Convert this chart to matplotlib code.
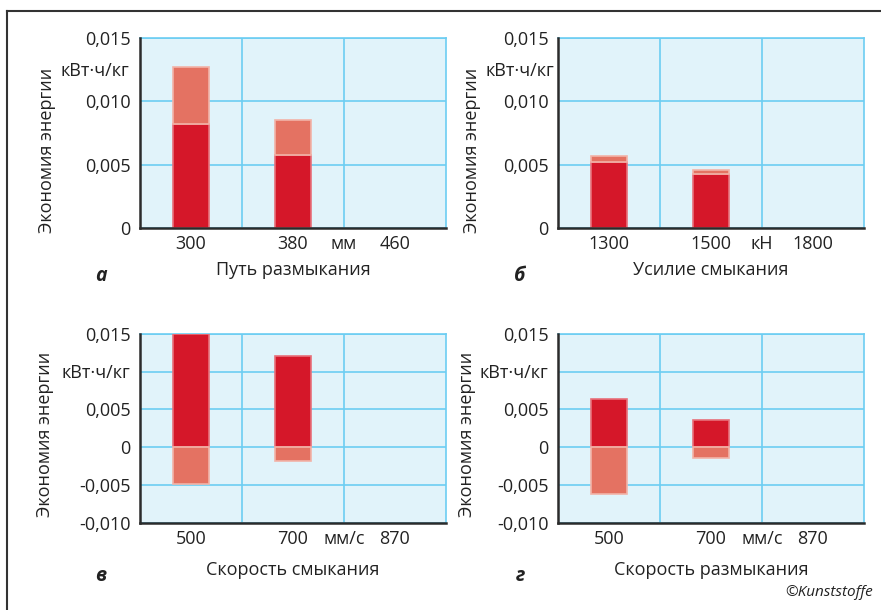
import matplotlib
matplotlib.use("Agg")
import matplotlib.pyplot as plt
from matplotlib.lines import Line2D

plt.rcParams['font.family'] = ['Open Sans', 'DejaVu Sans']

# ---- data ----
cats_a = ['300', '380']
ticks_a = ['300', '380', 'мм', '460']
dark_a = [0.0082, 0.0058]
light_a = [0.0045, 0.0027]      # stacked on top of dark

cats_b = ['1300', '1500']
ticks_b = ['1300', '1500', 'кН', '1800']
dark_b = [0.0052, 0.0043]
light_b = [0.0005, 0.0003]

cats_c = ['500', '700']
ticks_c = ['500', '700', 'мм/с', '870']
dark_c = [0.0150, 0.0120]
light_c = [-0.0049, -0.0019]

cats_d = ['500', '700']
ticks_d = ['500', '700', 'мм/с', '870']
dark_d = [0.0064, 0.0036]
light_d = [-0.0062, -0.0014]

ylabel = 'Экономия энергии'
unit = 'кВт·ч/кг'
xlabels = ['Путь размыкания', 'Усилие смыкания', 'Скорость смыкания', 'Скорость размыкания']
letters = ['а', 'б', 'в', 'г']

DARK = '#D51729'
DARK_EDGE = '#E8707A'
LIGHT = '#E47262'
LIGHT_EDGE = '#F2B3A8'
BG = '#E1F3FA'
GRID = '#6CCDF2'
AX = '#2B2B2B'
TXT = '#222222'

W, H = 881, 610
fig = plt.figure(figsize=(W / 100, H / 100), dpi=100)

def fx(px): return px / W
def fy(py): return 1 - py / H

panels = [
    dict(l=140, t=38, b=228, cats=cats_a, ticks=ticks_a, dark=dark_a, light=light_a, stack=True,
         ylim=(0, 0.015), yt=[0, 0.005, 0.010, 0.015], ytl=['0', '0,005', '0,010', '0,015'],
         xl=xlabels[0], let=letters[0], letx=101, lety=276, ylx=47, yly=150, upad=11),
    dict(l=558, t=38, b=228, cats=cats_b, ticks=ticks_b, dark=dark_b, light=light_b, stack=True,
         ylim=(0, 0.015), yt=[0, 0.005, 0.010, 0.015], ytl=['0', '0,005', '0,010', '0,015'],
         xl=xlabels[1], let=letters[1], letx=520, lety=276, ylx=472, yly=150, upad=4),
    dict(l=140, t=333.7, b=522.7, cats=cats_c, ticks=ticks_c, dark=dark_c, light=light_c, stack=False,
         ylim=(-0.010, 0.015), yt=[-0.010, -0.005, 0, 0.005, 0.010, 0.015],
         ytl=['-0,010', '-0,005', '0', '0,005', unit, '0,015'],
         xl=xlabels[2], let=letters[2], letx=101, lety=576, ylx=45, yly=434, upad=0),
    dict(l=558, t=333.7, b=522.7, cats=cats_d, ticks=ticks_d, dark=dark_d, light=light_d, stack=False,
         ylim=(-0.010, 0.015), yt=[-0.010, -0.005, 0, 0.005, 0.010, 0.015],
         ytl=['-0,010', '-0,005', '0', '0,005', unit, '0,015'],
         xl=xlabels[3], let=letters[3], letx=520, lety=576, ylx=467, yly=434, upad=0),
]

FS = 13
for p in panels:
    ax = fig.add_axes([fx(p['l']), fy(p['b']), 306 / W, (p['b'] - p['t']) / H])
    ax.set_facecolor(BG)
    n = len(p['cats'])
    x = list(range(n))
    bw = 0.35
    ax.bar(x, p['dark'], width=bw, color=DARK, edgecolor=DARK_EDGE, linewidth=1.2, zorder=3)
    if p['stack']:
        ax.bar(x, p['light'], width=bw, bottom=p['dark'], color=LIGHT, edgecolor=LIGHT_EDGE,
               linewidth=1.2, zorder=3)
    else:
        ax.bar(x, p['light'], width=bw, color=LIGHT, edgecolor=LIGHT_EDGE, linewidth=1.2, zorder=3)
    ax.set_xlim(-0.5, 2.5)
    ax.set_ylim(*p['ylim'])
    ax.set_xticks([0, 1, 1.5, 2])
    ax.set_xticklabels(p['ticks'], fontsize=FS, color=TXT)
    ax.set_yticks(p['yt'])
    ax.set_yticklabels(p['ytl'], fontsize=FS, color=TXT)
    ax.tick_params(axis='both', which='both', length=0)
    ax.tick_params(axis='x', pad=5)
    ax.tick_params(axis='y', pad=7)
    ax.grid(True, axis='y', which='major', color=GRID, linewidth=1.2, zorder=1)
    for gx in (0.5, 1.5):
        ax.axvline(gx, color=GRID, linewidth=1.2, zorder=1)
    ax.set_axisbelow(True)
    for s in ['left', 'bottom']:
        ax.spines[s].set_color(AX)
        ax.spines[s].set_linewidth(1.8)
        ax.spines[s].set_zorder(4)
    for s in ['right', 'top']:
        ax.spines[s].set_color(GRID)
        ax.spines[s].set_linewidth(1.2)
    if p['stack']:
        ax.text(-p['upad'] / 306, 0.826, unit, transform=ax.transAxes, ha='right', va='center',
                fontsize=FS, color=TXT)
    # x label
    fig.text(fx(p['l'] + 153), fy(p['lety'] - 6), p['xl'], ha='center', va='center',
             fontsize=FS, color=TXT)
    # panel letter
    fig.text(fx(p['letx']), fy(p['lety']), p['let'], ha='center', va='center',
             fontsize=14, fontweight='bold', fontstyle='italic', color=TXT)
    # y label
    fig.text(fx(p['ylx']), fy(p['yly']), ylabel, rotation=90, ha='center', va='center',
             fontsize=FS, color=TXT)

fig.text(fx(873), fy(593), '©Kunststoffe', ha='right', va='center', fontsize=11,
         fontstyle='italic', color=TXT)

# outer frame (left + top)
fig.add_artist(Line2D([fx(7), fx(7)], [0, fy(11)], color='#333333', linewidth=1.5))
fig.add_artist(Line2D([fx(7), 1], [fy(11), fy(11)], color='#333333', linewidth=1.5))

fig.savefig('out.png', dpi=100, facecolor='white')
